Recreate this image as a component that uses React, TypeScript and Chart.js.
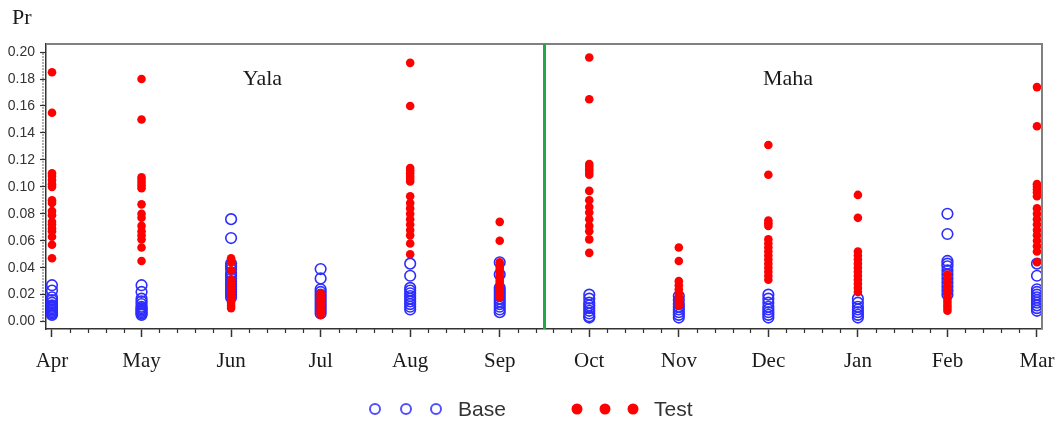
import React, { useEffect, useRef } from "react";
import { Chart, registerables } from "chart.js";

Chart.register(...registerables);

// ---------- data ----------
const months = ["Apr", "May", "Jun", "Jul", "Aug", "Sep", "Oct", "Nov", "Dec", "Jan", "Feb", "Mar"];
const yTickValues = [0, 0.02, 0.04, 0.06, 0.08, 0.1, 0.12, 0.14, 0.16, 0.18, 0.2];
const seasonNames = ["Yala", "Maha"];
const seriesNames = ["Base", "Test"];
const yAxisTitle = "Pr";

const baseApr = [0.027, 0.023, 0.018, 0.016, 0.014, 0.012, 0.011, 0.01, 0.009, 0.008, 0.007, 0.006, 0.005];
const baseMay = [0.027, 0.022, 0.017, 0.015, 0.013, 0.011, 0.01, 0.009, 0.008, 0.007, 0.006, 0.005];
const baseJun = [0.076, 0.062, 0.043, 0.041, 0.039, 0.036, 0.034, 0.032, 0.03, 0.028, 0.026, 0.024, 0.022, 0.02, 0.018];
const baseJul = [0.039, 0.032, 0.024, 0.022, 0.02, 0.018, 0.016, 0.014, 0.012, 0.01, 0.008, 0.006];
const baseAug = [0.043, 0.034, 0.025, 0.023, 0.021, 0.019, 0.017, 0.015, 0.013, 0.011, 0.009];
const baseSep = [0.044, 0.035, 0.025, 0.023, 0.021, 0.019, 0.017, 0.015, 0.013, 0.011, 0.009, 0.007];
const baseOct = [0.02, 0.017, 0.014, 0.012, 0.01, 0.008, 0.006, 0.004, 0.003];
const baseNov = [0.019, 0.016, 0.013, 0.011, 0.009, 0.007, 0.005, 0.003];
const baseDec = [0.02, 0.017, 0.014, 0.011, 0.009, 0.007, 0.005, 0.003];
const baseJan = [0.017, 0.014, 0.011, 0.009, 0.007, 0.005, 0.003];
const baseFeb = [0.08, 0.065, 0.045, 0.043, 0.041, 0.038, 0.035, 0.032, 0.029, 0.026, 0.023, 0.02];
const baseMar = [0.043, 0.034, 0.024, 0.022, 0.02, 0.018, 0.016, 0.014, 0.012, 0.01, 0.008];

const testApr = [0.185, 0.155, 0.11, 0.108, 0.105, 0.102, 0.1, 0.09, 0.088, 0.082, 0.079, 0.074, 0.072, 0.069, 0.067, 0.063, 0.057, 0.047];
const testMay = [0.18, 0.15, 0.107, 0.105, 0.103, 0.101, 0.099, 0.087, 0.08, 0.077, 0.071, 0.067, 0.064, 0.061, 0.055, 0.045];
const testJun = [0.047, 0.044, 0.038, 0.031, 0.028, 0.026, 0.024, 0.022, 0.02, 0.018, 0.016, 0.014, 0.012, 0.01];
const testJul = [0.021, 0.019, 0.017, 0.015, 0.013, 0.011, 0.009, 0.007, 0.005];
const testAug = [0.192, 0.16, 0.114, 0.112, 0.11, 0.108, 0.106, 0.104, 0.093, 0.088, 0.084, 0.08, 0.076, 0.072, 0.068, 0.064, 0.058, 0.05];
const testSep = [0.074, 0.06, 0.044, 0.042, 0.04, 0.038, 0.036, 0.034, 0.032, 0.03, 0.028, 0.026, 0.024, 0.022, 0.02, 0.018];
const testOct = [0.196, 0.165, 0.117, 0.115, 0.113, 0.111, 0.109, 0.097, 0.09, 0.085, 0.081, 0.076, 0.071, 0.067, 0.061, 0.051];
const testNov = [0.055, 0.045, 0.03, 0.027, 0.024, 0.021, 0.018, 0.015, 0.012];
const testDec = [0.131, 0.109, 0.075, 0.073, 0.071, 0.061, 0.058, 0.055, 0.052, 0.049, 0.046, 0.043, 0.04, 0.037, 0.034, 0.031];
const testJan = [0.094, 0.077, 0.052, 0.049, 0.046, 0.043, 0.04, 0.037, 0.034, 0.031, 0.028, 0.025, 0.022];
const testFeb = [0.035, 0.03, 0.026, 0.024, 0.022, 0.02, 0.018, 0.016, 0.014, 0.012, 0.01, 0.008];
const testMar = [0.174, 0.145, 0.102, 0.1, 0.098, 0.096, 0.093, 0.084, 0.08, 0.076, 0.072, 0.068, 0.064, 0.06, 0.056, 0.052, 0.044];

const baseSeries = [baseApr, baseMay, baseJun, baseJul, baseAug, baseSep, baseOct, baseNov, baseDec, baseJan, baseFeb, baseMar];
const testSeries = [testApr, testMay, testJun, testJul, testAug, testSep, testOct, testNov, testDec, testJan, testFeb, testMar];

// ---------- styles ----------
const BLUE = "rgb(45,45,255)";
const RED = "#ff0000";
const GREEN = "#22a846";
const SERIF = "'Liberation Serif', 'Times New Roman', serif";
const SANS = "'Liberation Sans', Arial, sans-serif";

const toPoints = (series: number[][]) =>
  series.flatMap((vals, i) => vals.map((v) => ({ x: i, y: v })));

const decorPlugin = {
  id: "decor",
  afterDatasetsDraw(chart: any) {
    const { ctx, chartArea, scales } = chart;
    const { left, right, top, bottom } = chartArea;
    const xs = scales.x;
    const ys = scales.y;
    ctx.save();
    // top & right frame
    ctx.strokeStyle = "#808080";
    ctx.lineWidth = 2;
    ctx.beginPath();
    ctx.moveTo(left, top);
    ctx.lineTo(right, top);
    ctx.lineTo(right, bottom);
    ctx.stroke();
    // season divider
    const gx = xs.getPixelForValue(5.5);
    ctx.strokeStyle = GREEN;
    ctx.lineWidth = 3;
    ctx.beginPath();
    ctx.moveTo(gx, top);
    ctx.lineTo(gx, bottom);
    ctx.stroke();
    // season labels
    ctx.fillStyle = "#1a1a1a";
    ctx.font = `22px ${SERIF}`;
    ctx.textAlign = "center";
    ctx.textBaseline = "middle";
    ctx.fillText(seasonNames[0], xs.getPixelForValue(2.35), ys.getPixelForValue(0.18));
    ctx.fillText(seasonNames[1], xs.getPixelForValue(8.22), ys.getPixelForValue(0.18));
    ctx.restore();
  },
  afterDraw(chart: any) {
    const { ctx, chartArea, scales } = chart;
    const { left, bottom } = chartArea;
    const xs = scales.x;
    const ys = scales.y;
    ctx.save();
    // minor x ticks
    ctx.strokeStyle = "#333";
    ctx.lineWidth = 1.2;
    for (let i = 0; i < months.length; i++) {
      for (let k = -4; k <= 4; k++) {
        if (k === 0) continue;
        const v = i + k * 0.2;
        if (v < xs.min || v > xs.max) continue;
        if (k < 0 && i > 0) continue;
        const px = Math.round(xs.getPixelForValue(v)) + 0.5;
        ctx.beginPath();
        ctx.moveTo(px, bottom);
        ctx.lineTo(px, bottom + 4);
        ctx.stroke();
      }
    }
    // dotted line on y axis
    ctx.setLineDash([1, 2]);
    ctx.lineWidth = 1.5;
    ctx.beginPath();
    ctx.moveTo(left - 3, ys.getPixelForValue(0));
    ctx.lineTo(left - 3, ys.getPixelForValue(0.2));
    ctx.stroke();
    ctx.setLineDash([]);
    // y title
    ctx.fillStyle = "#1a1a1a";
    ctx.font = `22px ${SERIF}`;
    ctx.textAlign = "left";
    ctx.textBaseline = "middle";
    ctx.fillText(yAxisTitle, 12, 18);
    // legend
    const ly = 409;
    ctx.strokeStyle = "rgb(80,80,255)";
    ctx.lineWidth = 2;
    [375, 406, 436].forEach((cx) => {
      ctx.beginPath();
      ctx.arc(cx, ly, 5, 0, Math.PI * 2);
      ctx.stroke();
    });
    ctx.fillStyle = RED;
    [577, 605, 633].forEach((cx) => {
      ctx.beginPath();
      ctx.arc(cx, ly, 5.5, 0, Math.PI * 2);
      ctx.fill();
    });
    ctx.fillStyle = "#333";
    ctx.font = `21px ${SANS}`;
    ctx.textAlign = "left";
    ctx.fillText(seriesNames[0], 458, ly + 1);
    ctx.fillText(seriesNames[1], 654, ly + 1);
    ctx.restore();
  },
};

export default function App() {
  const ref = useRef<HTMLCanvasElement | null>(null);

  useEffect(() => {
    document.body.style.margin = "0";
    const canvas = ref.current;
    if (!canvas) return;
    const chart = new Chart(canvas, {
      type: "scatter",
      data: {
        datasets: [
          {
            label: seriesNames[1],
            data: toPoints(testSeries),
            pointRadius: 4.3,
            pointBackgroundColor: RED,
            pointBorderColor: RED,
            pointBorderWidth: 0,
            order: 1,
          },
          {
            label: seriesNames[0],
            data: toPoints(baseSeries),
            pointRadius: 5.3,
            pointBackgroundColor: "rgba(0,0,0,0)",
            pointBorderColor: BLUE,
            pointBorderWidth: 1.6,
            order: 2,
          },
        ],
      },
      options: {
        animation: false,
        responsive: true,
        maintainAspectRatio: false,
        layout: { padding: { top: 44, right: 22, left: 0, bottom: 0 } },
        plugins: { legend: { display: false }, tooltip: { enabled: false } },
        scales: {
          x: {
            type: "linear",
            min: -0.067,
            max: 11.056,
            afterBuildTicks: (scale: any) => {
              scale.ticks = months.map((_, i) => ({ value: i }));
            },
            afterFit: (scale: any) => {
              scale.height = 93;
              scale.paddingLeft = 0;
              scale.paddingRight = 0;
            },
            ticks: {
              autoSkip: false,
              maxRotation: 0,
              padding: 12,
              color: "#1a1a1a",
              font: { family: SERIF, size: 21 },
              callback: (v: any) => months[Math.round(Number(v))] ?? "",
            },
            grid: {
              display: true,
              drawOnChartArea: false,
              drawTicks: true,
              tickLength: 8,
              tickColor: "#333",
              tickWidth: 1.5,
            },
            border: { display: true, color: "#333", width: 1.5 },
          },
          y: {
            type: "linear",
            min: -0.0055,
            max: 0.206,
            afterBuildTicks: (scale: any) => {
              scale.ticks = yTickValues.map((v) => ({ value: v }));
            },
            afterFit: (scale: any) => {
              scale.width = 46;
            },
            ticks: {
              padding: 5,
              color: "#333",
              font: { family: SANS, size: 14 },
              callback: (v: any) => Number(v).toFixed(2),
            },
            grid: {
              display: true,
              drawOnChartArea: false,
              drawTicks: true,
              tickLength: 6,
              tickColor: "#333",
              tickWidth: 1.2,
            },
            border: { display: true, color: "#333", width: 1.5 },
          },
        },
      },
      plugins: [decorPlugin],
    });
    return () => chart.destroy();
  }, []);

  return (
    <div style={{ position: "relative", width: 1064, height: 422, background: "#fff" }}>
      <canvas ref={ref} />
    </div>
  );
}
